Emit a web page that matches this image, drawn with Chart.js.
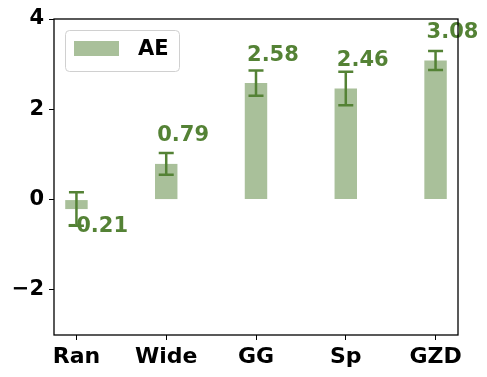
<!DOCTYPE html>
<html>
<head>
<meta charset="utf-8">
<script src="https://cdn.jsdelivr.net/npm/chart.js@4/dist/chart.umd.min.js"></script>
<style>
  html, body { margin: 0; padding: 0; background: #fff; }
  #wrap { width: 487px; height: 377px; position: relative; }
</style>
</head>
<body>
<div id="wrap"><canvas id="chart"></canvas></div>
<script>
const categories = ['Ran', 'Wide', 'GG', 'Sp', 'GZD'];
const aeValues = [-0.21, 0.79, 2.58, 2.46, 3.08];
const aeErrors = [0.37, 0.24, 0.28, 0.37, 0.21];
const yTickValues = [-2, 0, 2, 4];
const seriesLabel = 'AE';

const darkGreen = '#548235';
const barGreen = 'rgba(84, 130, 53, 0.5)';
const tickFont = { family: 'DejaVu Sans', size: 21, weight: 'bold' };

Chart.defaults.font.family = 'DejaVu Sans';
Chart.defaults.color = '#000';

const frame = {
  id: 'frame',
  afterDraw(chart) {
    const { ctx, chartArea: a } = chart;
    ctx.save();
    ctx.strokeStyle = '#000';
    ctx.lineWidth = 1.3;
    ctx.strokeRect(a.left, a.top, a.right - a.left, a.bottom - a.top);
    ctx.restore();
  },
};

const errorBars = {
  id: 'errorBars',
  afterDatasetsDraw(chart) {
    const { ctx, scales } = chart;
    ctx.save();
    ctx.strokeStyle = darkGreen;
    ctx.lineWidth = 2.5;
    aeValues.forEach((v, i) => {
      const x = scales.x.getPixelForValue(i);
      const yt = scales.y.getPixelForValue(v + aeErrors[i]);
      const yb = scales.y.getPixelForValue(v - aeErrors[i]);
      ctx.beginPath();
      ctx.moveTo(x, yt); ctx.lineTo(x, yb);
      ctx.moveTo(x - 7.5, yt); ctx.lineTo(x + 7.5, yt);
      ctx.moveTo(x - 7.5, yb); ctx.lineTo(x + 7.5, yb);
      ctx.stroke();
    });

    // value labels
    ctx.fillStyle = darkGreen;
    ctx.font = 'bold 21px "DejaVu Sans"';
    ctx.textAlign = 'left';
    ctx.textBaseline = 'alphabetic';
    aeValues.forEach((v, i) => {
      const x = scales.x.getPixelForValue(i - 0.1);
      const y = scales.y.getPixelForValue(v >= 0 ? v + 0.5 : v - 0.5);
      ctx.fillText(v.toFixed(2), x, y);
    });
    ctx.restore();
  },
};

const boxLegend = {
  id: 'boxLegend',
  afterDraw(chart) {
    const { ctx, chartArea: a } = chart;
    const left = a.left + 11, top = a.top + 11, w = 114, h = 41;
    ctx.save();
    ctx.fillStyle = 'rgba(255,255,255,0.8)';
    ctx.strokeStyle = '#d0d0d0';
    ctx.lineWidth = 1;
    ctx.beginPath();
    ctx.roundRect(left + 0.5, top + 0.5, w, h, 4);
    ctx.fill();
    ctx.stroke();
    ctx.fillStyle = barGreen;
    ctx.fillRect(left + 9, top + 11, 45, 15);
    ctx.fillStyle = '#000';
    ctx.font = 'bold 21px "DejaVu Sans"';
    ctx.textBaseline = 'middle';
    ctx.fillText(chart.data.datasets[0].label, left + 73, top + 20);
    ctx.restore();
  },
};

new Chart(document.getElementById('chart'), {
  type: 'bar',
  data: {
    datasets: [
      {
        label: seriesLabel,
        data: aeValues.map((v, i) => ({ x: i, y: v })),
        backgroundColor: barGreen,
        borderWidth: 0,
        categoryPercentage: 0.25,
        barPercentage: 1,
      },
    ],
  },
  options: {
    responsive: true,
    maintainAspectRatio: false,
    animation: false,
    layout: { padding: { top: 19, right: 29, left: 0, bottom: 0 } },
    plugins: { legend: { display: false }, tooltip: { enabled: false } },
    scales: {
      x: {
        type: 'linear',
        min: -0.25,
        max: 4.25,
        offset: false,
        afterBuildTicks: (scale) => {
          scale.ticks = categories.map((c, i) => ({ value: i }));
        },
        afterFit: (scale) => { scale.height = 42; },
        grid: { offset: false, drawOnChartArea: false, drawTicks: true, tickLength: 5, color: '#000' },
        border: { display: false },
        ticks: {
          font: { ...tickFont, size: 22 },
          color: '#000',
          padding: 4,
          maxRotation: 0,
          callback: (v) => categories[v],
        },
      },
      y: {
        min: -3,
        max: 4,
        afterBuildTicks: (scale) => {
          scale.ticks = yTickValues.map((v) => ({ value: v }));
        },
        afterFit: (scale) => { scale.width = 54; },
        grid: { offset: false, drawOnChartArea: false, drawTicks: true, tickLength: 5, color: '#000' },
        border: { display: false },
        ticks: {
          font: tickFont,
          color: '#000',
          padding: 5,
          callback: (v) => (v < 0 ? '\u2212' + Math.abs(v) : String(v)),
        },
      },
    },
  },
  plugins: [frame, errorBars, boxLegend],
});
</script>
</body>
</html>
